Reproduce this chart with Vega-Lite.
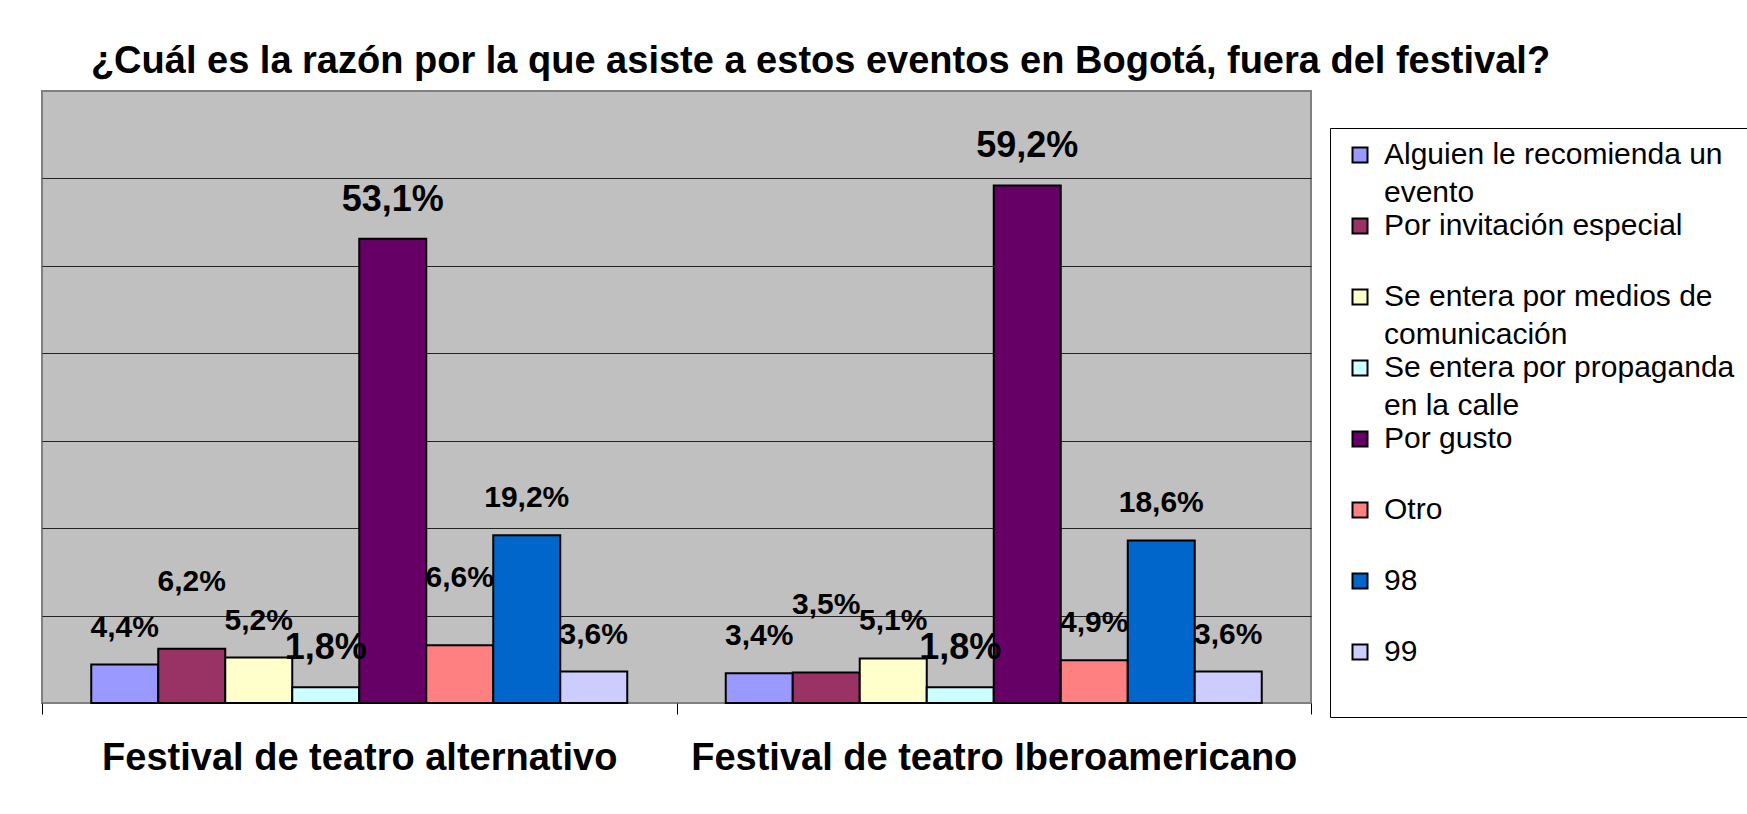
{
  "$schema": "https://vega.github.io/schema/vega-lite/v6.json",
  "width": 1269,
  "height": 612,
  "autosize": {"type": "none"},
  "padding": {"left": 42, "top": 91, "right": 436, "bottom": 111},
  "background": "white",
  "title": {
    "text": "¿Cuál es la razón por la que asiste a estos eventos en Bogotá, fuera del festival?",
    "font": "Liberation Sans",
    "fontSize": 38,
    "fontWeight": "bold",
    "color": "black",
    "anchor": "middle",
    "frame": "group",
    "dx": 144,
    "baseline": "alphabetic",
    "offset": -20
  },
  "data": {
    "values": [
      {"festival": "Festival de teatro alternativo", "razon": "Alguien le recomienda un evento", "valor": 0.044},
      {"festival": "Festival de teatro alternativo", "razon": "Por invitación especial", "valor": 0.062},
      {"festival": "Festival de teatro alternativo", "razon": "Se entera por medios de comunicación", "valor": 0.052},
      {"festival": "Festival de teatro alternativo", "razon": "Se entera por propaganda en la calle", "valor": 0.018},
      {"festival": "Festival de teatro alternativo", "razon": "Por gusto", "valor": 0.531},
      {"festival": "Festival de teatro alternativo", "razon": "Otro", "valor": 0.066},
      {"festival": "Festival de teatro alternativo", "razon": "98", "valor": 0.192},
      {"festival": "Festival de teatro alternativo", "razon": "99", "valor": 0.036},
      {"festival": "Festival de teatro Iberoamericano", "razon": "Alguien le recomienda un evento", "valor": 0.034},
      {"festival": "Festival de teatro Iberoamericano", "razon": "Por invitación especial", "valor": 0.035},
      {"festival": "Festival de teatro Iberoamericano", "razon": "Se entera por medios de comunicación", "valor": 0.051},
      {"festival": "Festival de teatro Iberoamericano", "razon": "Se entera por propaganda en la calle", "valor": 0.018},
      {"festival": "Festival de teatro Iberoamericano", "razon": "Por gusto", "valor": 0.592},
      {"festival": "Festival de teatro Iberoamericano", "razon": "Otro", "valor": 0.049},
      {"festival": "Festival de teatro Iberoamericano", "razon": "98", "valor": 0.186},
      {"festival": "Festival de teatro Iberoamericano", "razon": "99", "valor": 0.036}
    ]
  },
  "encoding": {
    "x": {
      "field": "festival",
      "type": "nominal",
      "sort": ["Festival de teatro alternativo", "Festival de teatro Iberoamericano"],
      "scale": {"paddingInner": 0, "paddingOuter": 0},
      "axis": {
        "title": null,
        "domain": false,
        "grid": false,
        "labelAngle": 0,
        "labelFont": "Liberation Sans",
        "labelFontSize": 38,
        "labelFontWeight": "bold",
        "labelColor": "black",
        "labelBaseline": "alphabetic",
        "labelPadding": 55,
        "labelLimit": 0,
        "tickBand": "extent",
        "tickColor": "black",
        "tickSize": 11,
        "tickWidth": 1
      }
    },
    "xOffset": {
      "field": "razon",
      "type": "nominal",
      "sort": ["Alguien le recomienda un evento", "Por invitación especial", "Se entera por medios de comunicación", "Se entera por propaganda en la calle", "Por gusto", "Otro", "98", "99"],
      "scale": {"paddingInner": 0, "paddingOuter": 0.735}
    },
    "y": {
      "field": "valor",
      "type": "quantitative",
      "scale": {"domain": [0, 0.7], "nice": false},
      "axis": {
        "title": null,
        "labels": false,
        "ticks": false,
        "domain": false,
        "grid": true,
        "gridColor": "#222222",
        "gridWidth": 1,
        "values": [0.1, 0.2, 0.3, 0.4, 0.5, 0.6]
      }
    }
  },
  "layer": [
    {
      "mark": {"type": "bar", "stroke": "black", "strokeWidth": 2},
      "encoding": {
        "color": {
          "field": "razon",
          "type": "nominal",
          "sort": ["Alguien le recomienda un evento", "Por invitación especial", "Se entera por medios de comunicación", "Se entera por propaganda en la calle", "Por gusto", "Otro", "98", "99"],
          "scale": {
            "domain": ["Alguien le recomienda un evento", "Por invitación especial", "Se entera por medios de comunicación", "Se entera por propaganda en la calle", "Por gusto", "Otro", "98", "99"],
            "range": ["#9999FF", "#993366", "#FFFFCC", "#CCFFFF", "#660066", "#FF8080", "#0066CC", "#CCCCFF"]
          },
          "legend": {
            "title": null,
            "orient": "none",
            "legendX": 1288,
            "legendY": 37,
            "direction": "vertical",
            "columns": 1,
            "gridAlign": "all",
            "rowPadding": 3,
            "padding": 12,
            "symbolOffset": 3,
            "strokeColor": "black",
            "fillColor": "white",
            "symbolType": "square",
            "symbolSize": 225,
            "symbolStrokeColor": "black",
            "symbolStrokeWidth": 2,
            "symbolOpacity": 1,
            "labelFont": "Liberation Sans",
            "labelFontSize": 30,
            "labelColor": "black",
            "labelLimit": 0,
            "labelOffset": 9,
            "labelBaseline": "top",
            "labelExpr": "datum.label == 'Alguien le recomienda un evento' ? ['Alguien le recomienda un', 'evento'] : datum.label == 'Se entera por medios de comunicación' ? ['Se entera por medios de', 'comunicación'] : datum.label == 'Se entera por propaganda en la calle' ? ['Se entera por propaganda', 'en la calle'] : datum.label == '99' ? ['99', ' '] : datum.label",
            "encode": {
              "labels": {"update": {"lineHeight": {"value": 38}, "dy": {"value": -15}}}
            }
          }
        }
      }
    },
    {
      "transform": [{"filter": "datum.razon != 'Por invitación especial' && !(datum.razon == 'Otro' && datum.festival == 'Festival de teatro alternativo')"}],
      "mark": {"type": "text", "font": "Liberation Sans", "fontWeight": "bold", "baseline": "alphabetic", "dy": -28, "color": "black"},
      "encoding": {
        "text": {"field": "valor", "type": "quantitative", "format": ".1%"},
        "size": {
          "condition": {"test": "datum.razon == 'Por gusto' || datum.razon == 'Se entera por propaganda en la calle'", "value": 36},
          "value": 30
        }
      }
    },
    {
      "transform": [{"filter": "datum.razon == 'Por invitación especial' || (datum.razon == 'Otro' && datum.festival == 'Festival de teatro alternativo')"}],
      "mark": {"type": "text", "font": "Liberation Sans", "fontWeight": "bold", "baseline": "alphabetic", "dy": -58, "fontSize": 30, "color": "black"},
      "encoding": {
        "text": {"field": "valor", "type": "quantitative", "format": ".1%"}
      }
    }
  ],
  "config": {
    "locale": {"number": {"decimal": ",", "thousands": ".", "grouping": [3], "currency": ["", ""]}},
    "view": {"fill": "#C0C0C0", "stroke": "#808080", "strokeWidth": 2}
  }
}
